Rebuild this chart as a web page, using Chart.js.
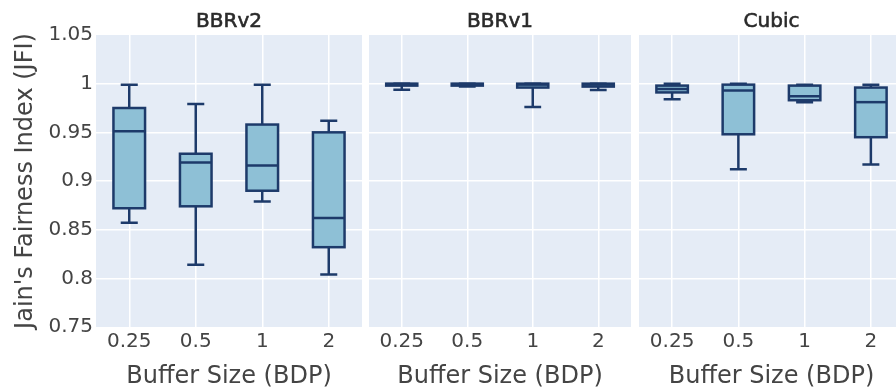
<!DOCTYPE html>
<html>
<head>
<meta charset="utf-8">
<script src="https://cdn.jsdelivr.net/npm/chart.js@4.4.1/dist/chart.umd.min.js"></script>
<style>
  html, body { margin: 0; padding: 0; background: #fff; overflow: hidden; }
  body { width: 896px; height: 392px; position: relative; }
  .panel { position: absolute; top: 0; height: 392px; }
</style>
</head>
<body>
<div class="panel" style="left:0;width:362px"><canvas id="c1"></canvas></div>
<div class="panel" style="left:369px;width:262px"><canvas id="c2"></canvas></div>
<div class="panel" style="left:639px;width:265px"><canvas id="c3"></canvas></div>
<script>
'use strict';

const categories = ['0.25', '0.5', '1', '2'];
const panelNames = ['BBRv2', 'BBRv1', 'Cubic'];

// box stats per buffer size
const bbr2Min = [0.857, 0.814, 0.879, 0.804];
const bbr2Q1  = [0.872, 0.874, 0.890, 0.832];
const bbr2Med = [0.951, 0.919, 0.916, 0.862];
const bbr2Q3  = [0.975, 0.928, 0.958, 0.950];
const bbr2Max = [0.999, 0.979, 0.999, 0.962];

const bbr1Min = [0.9937, 0.997, 0.976, 0.9934];
const bbr1Q1  = [0.998, 0.998, 0.996, 0.997];
const bbr1Med = [0.9995, 0.9995, 0.999, 0.999];
const bbr1Q3  = [1.0, 1.0, 1.0, 1.0];
const bbr1Max = [1.0, 1.0, 1.0, 1.0];

const cubicMin = [0.984, 0.912, 0.981, 0.917];
const cubicQ1  = [0.991, 0.948, 0.983, 0.945];
const cubicMed = [0.9945, 0.993, 0.987, 0.981];
const cubicQ3  = [0.998, 0.999, 0.998, 0.996];
const cubicMax = [1.0, 1.0, 0.999, 0.999];

const yMin = 0.75;
const yMax = 1.05;
const yStep = 0.05;

const FONT = 'DejaVu Sans';
const boxFill = '#8ec0d6';
const boxLine = '#1d3a6a';
const lineW = 2.5;

// plot background
const bgPlugin = {
  id: 'plotBg',
  beforeDraw(chart) {
    const a = chart.chartArea;
    const ctx = chart.ctx;
    ctx.save();
    ctx.fillStyle = '#e5ecf6';
    ctx.fillRect(a.left, a.top, a.right - a.left, a.bottom - a.top);
    ctx.restore();
  }
};

// whiskers, box outlines, medians and the subplot title
const boxPlugin = {
  id: 'boxExtras',
  beforeDatasetsDraw(chart, args, opts) {
    const ctx = chart.ctx;
    const y = chart.scales.y;
    const meta = chart.getDatasetMeta(0);
    ctx.save();
    ctx.strokeStyle = boxLine;
    ctx.lineWidth = lineW;
    meta.data.forEach((bar, i) => {
      const cap = (bar.width + lineW) / 4;
      const yLo = y.getPixelForValue(opts.min[i]);
      const yHi = y.getPixelForValue(opts.max[i]);
      const yQ1 = y.getPixelForValue(opts.q1[i]);
      const yQ3 = y.getPixelForValue(opts.q3[i]);
      ctx.beginPath();
      ctx.moveTo(bar.x, yQ3); ctx.lineTo(bar.x, yHi);
      ctx.moveTo(bar.x - cap, yHi); ctx.lineTo(bar.x + cap, yHi);
      ctx.moveTo(bar.x, yQ1); ctx.lineTo(bar.x, yLo);
      ctx.moveTo(bar.x - cap, yLo); ctx.lineTo(bar.x + cap, yLo);
      ctx.stroke();
    });
    ctx.restore();
  },
  afterDatasetsDraw(chart, args, opts) {
    const ctx = chart.ctx;
    const y = chart.scales.y;
    const meta = chart.getDatasetMeta(0);
    ctx.save();
    ctx.strokeStyle = boxLine;
    ctx.lineWidth = lineW;
    meta.data.forEach((bar, i) => {
      const yQ1 = y.getPixelForValue(opts.q1[i]);
      const yQ3 = y.getPixelForValue(opts.q3[i]);
      const ym = y.getPixelForValue(opts.med[i]);
      const x0 = bar.x - bar.width / 2;
      ctx.strokeRect(x0, yQ3, bar.width, yQ1 - yQ3);
      ctx.beginPath();
      ctx.moveTo(x0, ym);
      ctx.lineTo(x0 + bar.width, ym);
      ctx.stroke();
    });
    // title centered on the plot area, slightly heavier than the ticks
    const a = chart.chartArea;
    const cx = (a.left + a.right) / 2;
    ctx.fillStyle = '#2a2a2a';
    ctx.strokeStyle = '#2a2a2a';
    ctx.lineWidth = 0.6;
    ctx.font = '20px "' + FONT + '"';
    ctx.textAlign = 'center';
    ctx.textBaseline = 'alphabetic';
    ctx.fillText(opts.title, cx, 27);
    ctx.strokeText(opts.title, cx, 27);
    ctx.restore();
  }
};

function makePanel(id, name, mins, q1s, meds, q3s, maxs, first) {
  const ctx = document.getElementById(id).getContext('2d');
  return new Chart(ctx, {
    type: 'bar',
    data: {
      labels: categories,
      datasets: [{
        label: name,
        data: categories.map((c, i) => [q1s[i], q3s[i]]),
        backgroundColor: boxFill,
        borderWidth: 0,
        barPercentage: 0.475,
        categoryPercentage: 1.0
      }]
    },
    options: {
      responsive: true,
      maintainAspectRatio: false,
      animation: false,
      layout: { padding: { top: 35, left: 0, right: 0, bottom: 0 } },
      plugins: {
        legend: { display: false },
        tooltip: { enabled: false },
        boxExtras: { title: name, min: mins, q1: q1s, med: meds, q3: q3s, max: maxs }
      },
      scales: {
        x: {
          offset: true,
          grid: { offset: false, color: '#ffffff', lineWidth: 1.5, drawTicks: false },
          border: { display: false },
          ticks: { color: '#444', padding: 3, font: { family: FONT, size: 20 } },
          title: {
            display: true,
            text: 'Buffer Size (BDP)',
            color: '#444',
            font: { family: FONT, size: 24 },
            padding: { top: 0, bottom: 1 }
          },
          afterFit(scale) { scale.height = 65; }
        },
        y: {
          min: yMin,
          max: yMax,
          grid: {
            color: c => (c.tick && (c.tick.value <= yMin + 1e-9 || c.tick.value >= yMax - 1e-9)) ? 'rgba(0,0,0,0)' : '#ffffff',
            lineWidth: 1.5,
            drawTicks: false
          },
          border: { display: false },
          ticks: {
            display: first,
            stepSize: yStep,
            color: '#444',
            padding: 3,
            font: { family: FONT, size: 20 },
            callback: v => String(+v.toFixed(2))
          },
          title: {
            display: first,
            text: "Jain's Fairness Index (JFI)",
            color: '#444',
            font: { family: FONT, size: 24 },
            padding: { top: 11, bottom: 0 }
          },
          afterFit(scale) { scale.width = first ? 96 : 0; }
        }
      }
    },
    plugins: [bgPlugin, boxPlugin]
  });
}

makePanel('c1', panelNames[0], bbr2Min, bbr2Q1, bbr2Med, bbr2Q3, bbr2Max, true);
makePanel('c2', panelNames[1], bbr1Min, bbr1Q1, bbr1Med, bbr1Q3, bbr1Max, false);
makePanel('c3', panelNames[2], cubicMin, cubicQ1, cubicMed, cubicQ3, cubicMax, false);
</script>
</body>
</html>
